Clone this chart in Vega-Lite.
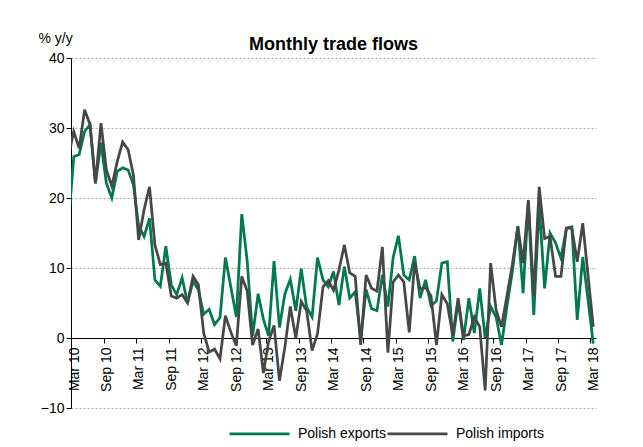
{
  "$schema": "https://vega.github.io/schema/vega-lite/v6.json",
  "width": 525,
  "height": 350,
  "autosize": {"type": "none"},
  "padding": {"left": 71, "top": 58, "right": 47, "bottom": 39},
  "background": "white",
  "title": {"text": "Monthly trade flows", "font": "Liberation Sans", "fontSize": 18, "fontWeight": "bold", "color": "black", "anchor": "middle", "frame": "group", "baseline": "alphabetic", "offset": 8, "dy": 45},
  "data": {"values": [
    {"m": "2010-02-15", "Polish exports": 16.5, "Polish imports": 26.0},
    {"m": "2010-03-15", "Polish exports": 25.9, "Polish imports": 29.5},
    {"m": "2010-04-15", "Polish exports": 26.2, "Polish imports": 27.1},
    {"m": "2010-05-15", "Polish exports": 29.5, "Polish imports": 32.6},
    {"m": "2010-06-15", "Polish exports": 30.5, "Polish imports": 30.5},
    {"m": "2010-07-15", "Polish exports": 22.1, "Polish imports": 22.1},
    {"m": "2010-08-15", "Polish exports": 27.9, "Polish imports": 30.7},
    {"m": "2010-09-15", "Polish exports": 22.1, "Polish imports": 24.0},
    {"m": "2010-10-15", "Polish exports": 20.0, "Polish imports": 21.7},
    {"m": "2010-11-15", "Polish exports": 23.8, "Polish imports": 25.2},
    {"m": "2010-12-15", "Polish exports": 24.3, "Polish imports": 28.0},
    {"m": "2011-01-15", "Polish exports": 24.0, "Polish imports": 26.9},
    {"m": "2011-02-15", "Polish exports": 21.9, "Polish imports": 23.3},
    {"m": "2011-03-15", "Polish exports": 16.0, "Polish imports": 14.0},
    {"m": "2011-04-15", "Polish exports": 14.5, "Polish imports": 18.3},
    {"m": "2011-05-15", "Polish exports": 17.1, "Polish imports": 21.6},
    {"m": "2011-06-15", "Polish exports": 8.3, "Polish imports": 13.3},
    {"m": "2011-07-15", "Polish exports": 7.4, "Polish imports": 10.5},
    {"m": "2011-08-15", "Polish exports": 13.1, "Polish imports": 10.7},
    {"m": "2011-09-15", "Polish exports": 7.6, "Polish imports": 6.0},
    {"m": "2011-10-15", "Polish exports": 6.2, "Polish imports": 5.7},
    {"m": "2011-11-15", "Polish exports": 8.6, "Polish imports": 6.2},
    {"m": "2011-12-15", "Polish exports": 5.0, "Polish imports": 5.0},
    {"m": "2012-01-15", "Polish exports": 8.1, "Polish imports": 8.8},
    {"m": "2012-02-15", "Polish exports": 6.9, "Polish imports": 7.6},
    {"m": "2012-03-15", "Polish exports": 3.4, "Polish imports": 0.7},
    {"m": "2012-04-15", "Polish exports": 4.1, "Polish imports": -2.0},
    {"m": "2012-05-15", "Polish exports": 1.9, "Polish imports": -1.6},
    {"m": "2012-06-15", "Polish exports": 2.9, "Polish imports": -3.0},
    {"m": "2012-07-15", "Polish exports": 11.5, "Polish imports": 3.2},
    {"m": "2012-08-15", "Polish exports": 7.2, "Polish imports": 0.8},
    {"m": "2012-09-15", "Polish exports": 3.0, "Polish imports": -1.1},
    {"m": "2012-10-15", "Polish exports": 17.7, "Polish imports": 8.8},
    {"m": "2012-11-15", "Polish exports": 11.0, "Polish imports": 6.7},
    {"m": "2012-12-15", "Polish exports": 0.3, "Polish imports": -1.0},
    {"m": "2013-01-15", "Polish exports": 6.3, "Polish imports": 1.3},
    {"m": "2013-02-15", "Polish exports": 2.7, "Polish imports": -5.0},
    {"m": "2013-03-15", "Polish exports": 0.3, "Polish imports": -0.5},
    {"m": "2013-04-15", "Polish exports": 11.0, "Polish imports": 1.8},
    {"m": "2013-05-15", "Polish exports": 1.5, "Polish imports": -6.1},
    {"m": "2013-06-15", "Polish exports": 6.3, "Polish imports": -1.3},
    {"m": "2013-07-15", "Polish exports": 8.4, "Polish imports": 4.5},
    {"m": "2013-08-15", "Polish exports": 3.9, "Polish imports": 0.0},
    {"m": "2013-09-15", "Polish exports": 9.9, "Polish imports": 5.2},
    {"m": "2013-10-15", "Polish exports": 4.4, "Polish imports": 3.9},
    {"m": "2013-11-15", "Polish exports": 3.0, "Polish imports": -1.8},
    {"m": "2013-12-15", "Polish exports": 11.5, "Polish imports": 0.6},
    {"m": "2014-01-15", "Polish exports": 8.3, "Polish imports": 7.3},
    {"m": "2014-02-15", "Polish exports": 7.3, "Polish imports": 8.2},
    {"m": "2014-03-15", "Polish exports": 9.5, "Polish imports": 6.8},
    {"m": "2014-04-15", "Polish exports": 4.7, "Polish imports": 9.7},
    {"m": "2014-05-15", "Polish exports": 10.2, "Polish imports": 13.3},
    {"m": "2014-06-15", "Polish exports": 5.7, "Polish imports": 9.3},
    {"m": "2014-07-15", "Polish exports": 6.6, "Polish imports": 8.8},
    {"m": "2014-08-15", "Polish exports": -0.2, "Polish imports": -1.0},
    {"m": "2014-09-15", "Polish exports": 6.9, "Polish imports": 9.0},
    {"m": "2014-10-15", "Polish exports": 4.2, "Polish imports": 7.1},
    {"m": "2014-11-15", "Polish exports": 3.9, "Polish imports": 6.7},
    {"m": "2014-12-15", "Polish exports": 9.0, "Polish imports": 13.0},
    {"m": "2015-01-15", "Polish exports": 4.5, "Polish imports": -2.1},
    {"m": "2015-02-15", "Polish exports": 11.5, "Polish imports": 8.0},
    {"m": "2015-03-15", "Polish exports": 14.6, "Polish imports": 9.0},
    {"m": "2015-04-15", "Polish exports": 9.0, "Polish imports": 8.0},
    {"m": "2015-05-15", "Polish exports": 8.3, "Polish imports": 0.8},
    {"m": "2015-06-15", "Polish exports": 11.7, "Polish imports": 10.8},
    {"m": "2015-07-15", "Polish exports": 5.7, "Polish imports": 7.0},
    {"m": "2015-08-15", "Polish exports": 8.3, "Polish imports": 7.2},
    {"m": "2015-09-15", "Polish exports": 4.6, "Polish imports": 6.0},
    {"m": "2015-10-15", "Polish exports": 5.3, "Polish imports": -1.0},
    {"m": "2015-11-15", "Polish exports": 10.7, "Polish imports": 6.2},
    {"m": "2015-12-15", "Polish exports": 10.9, "Polish imports": 4.9},
    {"m": "2016-01-15", "Polish exports": -0.5, "Polish imports": 0.4},
    {"m": "2016-02-15", "Polish exports": 5.3, "Polish imports": 5.7},
    {"m": "2016-03-15", "Polish exports": -0.3, "Polish imports": 0.3},
    {"m": "2016-04-15", "Polish exports": 5.7, "Polish imports": 0.5},
    {"m": "2016-05-15", "Polish exports": 0.7, "Polish imports": 3.0},
    {"m": "2016-06-15", "Polish exports": 7.1, "Polish imports": 1.6},
    {"m": "2016-07-15", "Polish exports": 0.0, "Polish imports": -7.5},
    {"m": "2016-08-15", "Polish exports": 4.5, "Polish imports": 10.7},
    {"m": "2016-09-15", "Polish exports": 3.0, "Polish imports": 4.0},
    {"m": "2016-10-15", "Polish exports": -1.0, "Polish imports": 1.6},
    {"m": "2016-11-15", "Polish exports": 4.5, "Polish imports": 6.0},
    {"m": "2016-12-15", "Polish exports": 9.5, "Polish imports": 10.5},
    {"m": "2017-01-15", "Polish exports": 16.0, "Polish imports": 15.9},
    {"m": "2017-02-15", "Polish exports": 6.4, "Polish imports": 10.7},
    {"m": "2017-03-15", "Polish exports": 19.5, "Polish imports": 19.7},
    {"m": "2017-04-15", "Polish exports": 3.3, "Polish imports": 6.0},
    {"m": "2017-05-15", "Polish exports": 19.0, "Polish imports": 21.6},
    {"m": "2017-06-15", "Polish exports": 7.1, "Polish imports": 14.2},
    {"m": "2017-07-15", "Polish exports": 15.0, "Polish imports": 14.5},
    {"m": "2017-08-15", "Polish exports": 13.6, "Polish imports": 8.8},
    {"m": "2017-09-15", "Polish exports": 11.4, "Polish imports": 8.8},
    {"m": "2017-10-15", "Polish exports": 15.7, "Polish imports": 15.7},
    {"m": "2017-11-15", "Polish exports": 15.9, "Polish imports": 15.7},
    {"m": "2017-12-15", "Polish exports": 2.6, "Polish imports": 10.9},
    {"m": "2018-01-15", "Polish exports": 11.6, "Polish imports": 16.4},
    {"m": "2018-02-15", "Polish exports": 5.5, "Polish imports": 9.0},
    {"m": "2018-03-15", "Polish exports": -0.8, "Polish imports": 1.6}
  ]},
  "transform": [{"fold": ["Polish exports", "Polish imports"], "as": ["series", "value"]}],
  "mark": {"type": "line", "strokeWidth": 2.75, "clip": true},
  "encoding": {
    "x": {
      "field": "m", "timeUnit": "yearmonth", "type": "temporal", "bandPosition": 0.5,
      "scale": {"domain": [{"year": 2010, "month": "mar", "date": 1}, {"year": 2018, "month": "apr", "date": 1}]},
      "axis": {
        "title": null,
        "values": [
          {"year": 2010, "month": "mar", "date": 1}, {"year": 2010, "month": "sep", "date": 1},
          {"year": 2011, "month": "mar", "date": 1}, {"year": 2011, "month": "sep", "date": 1},
          {"year": 2012, "month": "mar", "date": 1}, {"year": 2012, "month": "sep", "date": 1},
          {"year": 2013, "month": "mar", "date": 1}, {"year": 2013, "month": "sep", "date": 1},
          {"year": 2014, "month": "mar", "date": 1}, {"year": 2014, "month": "sep", "date": 1},
          {"year": 2015, "month": "mar", "date": 1}, {"year": 2015, "month": "sep", "date": 1},
          {"year": 2016, "month": "mar", "date": 1}, {"year": 2016, "month": "sep", "date": 1},
          {"year": 2017, "month": "mar", "date": 1}, {"year": 2017, "month": "sep", "date": 1},
          {"year": 2018, "month": "mar", "date": 1}
        ],
        "format": "%b %y",
        "formatType": "time",
        "labelAngle": -90,
        "labelAlign": "right",
        "labelBaseline": "middle",
        "labelOffset": 3,
        "labelPadding": 4,
        "labelFlush": false,
        "labelOverlap": false,
        "labelFont": "Liberation Sans",
        "labelFontSize": 14,
        "labelColor": "black",
        "offset": -70,
        "grid": false,
        "domainColor": "black",
        "domainWidth": 1,
        "tickColor": "black",
        "tickSize": 5
      }
    },
    "y": {
      "field": "value", "type": "quantitative",
      "scale": {"domain": [-10, 40], "nice": false, "zero": false},
      "axis": {
        "title": "% y/y",
        "titleAngle": 0,
        "titleX": -33,
        "titleY": -16,
        "titleAlign": "left",
        "titleBaseline": "alphabetic",
        "titleFont": "Liberation Sans",
        "titleFontSize": 14,
        "titleFontWeight": "normal",
        "titleColor": "black",
        "values": [-10, 0, 10, 20, 30, 40],
        "grid": true,
        "gridColor": "#a8a8a8",
        "gridDash": [2, 2],
        "gridWidth": 1,
        "domainColor": "black",
        "tickColor": "black",
        "tickSize": 5,
        "labelFont": "Liberation Sans",
        "labelFontSize": 14,
        "labelColor": "black",
        "labelPadding": 2
      }
    },
    "color": {
      "field": "series", "type": "nominal",
      "scale": {"domain": ["Polish exports", "Polish imports"], "range": ["#007A4D", "#474747"]},
      "legend": {
        "title": null,
        "orient": "none",
        "direction": "horizontal",
        "legendX": 157,
        "legendY": 344,
        "symbolType": "stroke",
        "symbolSize": 3600,
        "symbolStrokeWidth": 2.75,
        "labelFont": "Liberation Sans",
        "labelFontSize": 14,
        "labelColor": "black",
        "labelOffset": 7,
        "columnPadding": -7
      }
    }
  },
  "config": {"view": {"stroke": null}, "font": "Liberation Sans"}
}
